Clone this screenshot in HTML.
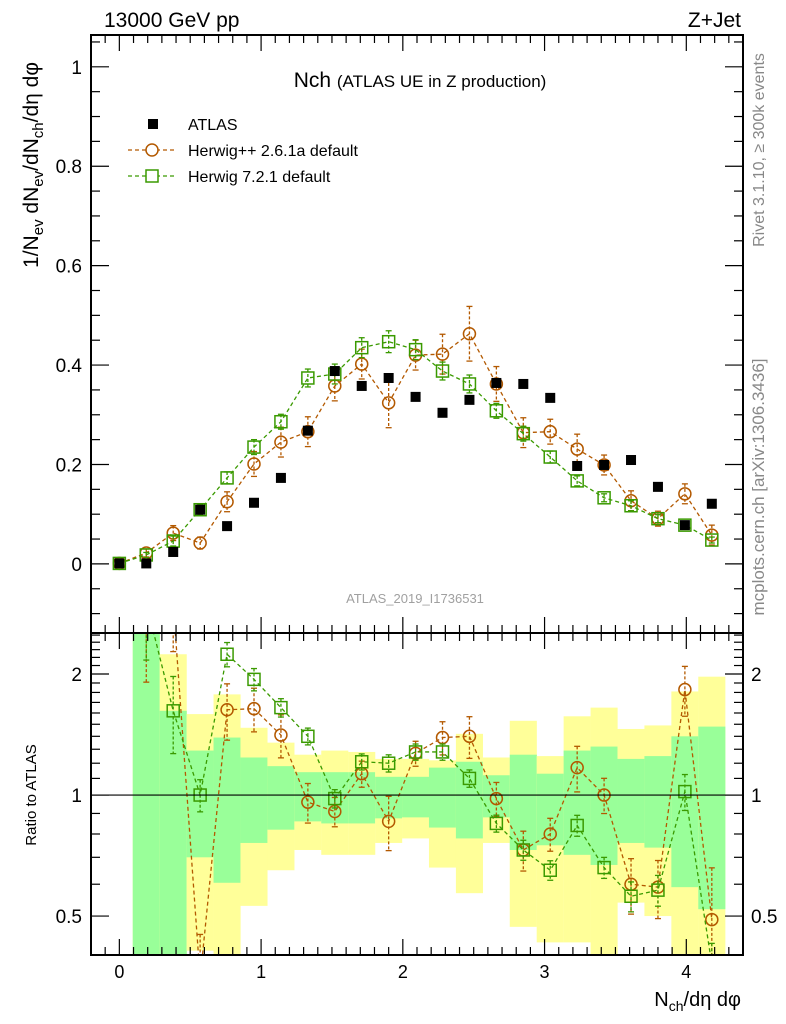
<!DOCTYPE html>
<html><head><meta charset="utf-8"><style>
html,body{margin:0;padding:0;background:#fff;}
svg{display:block;font-family:"Liberation Sans",sans-serif;}
</style></head><body>
<svg id="chart" width="786" height="1024" viewBox="0 0 786 1024" xmlns="http://www.w3.org/2000/svg">
<defs><clipPath id="clipMain"><rect x="91" y="35" width="652" height="598"/></clipPath>
<clipPath id="clipRatio"><rect x="91" y="633" width="652" height="322"/></clipPath></defs>
<g id="bands" clip-path="url(#clipRatio)"></g>
<g id="marks"></g>
<g id="axes"></g>
<text x="104" y="27" font-size="21">13000 GeV pp</text>
<text x="741" y="27" font-size="21" text-anchor="end">Z+Jet</text>
<text x="420" y="87" font-size="21" text-anchor="middle">Nch <tspan font-size="17">(ATLAS UE in Z production)</tspan></text>
<text x="415" y="603" font-size="13" fill="#a0a0a0" text-anchor="middle">ATLAS_2019_I1736531</text>
<text transform="translate(764,150) rotate(-90)" font-size="16" fill="#888" text-anchor="middle">Rivet 3.1.10, ≥ 300k events</text>
<text transform="translate(764,487) rotate(-90)" font-size="17" fill="#888" text-anchor="middle">mcplots.cern.ch [arXiv:1306.3436]</text>
<text transform="translate(38,165) rotate(-90)" font-size="21" text-anchor="middle">1/N<tspan font-size="15" dy="5">ev</tspan><tspan dy="-5"> dN</tspan><tspan font-size="15" dy="5">ev</tspan><tspan dy="-5">/dN</tspan><tspan font-size="15" dy="5">ch</tspan><tspan dy="-5">/dη dφ</tspan></text>
<text transform="translate(36,795) rotate(-90)" font-size="15" text-anchor="middle">Ratio to ATLAS</text>
<text x="741" y="1006" font-size="20" text-anchor="end">N<tspan font-size="14" dy="5">ch</tspan><tspan dy="-5">/dη dφ</tspan></text>
<g>
<rect x="148" y="119" width="10" height="10" fill="#000"/>
<text x="188" y="130" font-size="16">ATLAS</text>
<line x1="128" y1="150" x2="175" y2="150" stroke="#b35900" stroke-width="1.3" stroke-dasharray="4,3"/>
<circle cx="152" cy="150" r="6" fill="#fff" stroke="#b35900" stroke-width="1.5"/>
<text x="188" y="156" font-size="16">Herwig++ 2.6.1a default</text>
<line x1="128" y1="176" x2="175" y2="176" stroke="#3a9a00" stroke-width="1.3" stroke-dasharray="4,3"/>
<rect x="146" y="170" width="12" height="12" fill="#fff" stroke="#3a9a00" stroke-width="1.5"/>
<text x="188" y="182" font-size="16">Herwig 7.2.1 default</text>
</g>
</svg>
<script>
const xCenters=[0,0.19,0.38,0.57,0.76,0.95,1.14,1.33,1.52,1.71,1.9,2.09,2.28,2.47,2.66,2.85,3.04,3.23,3.42,3.61,3.8,3.99,4.18];
const atlasVals=[0.001,0.001,0.024,0.109,0.076,0.123,0.173,0.268,0.388,0.358,0.374,0.336,0.304,0.330,0.364,0.362,0.334,0.197,0.199,0.209,0.155,0.078,0.121];
const hppVals=[0.001,0.022,0.062,0.042,0.125,0.201,0.245,0.266,0.358,0.402,0.324,0.420,0.422,0.463,0.362,0.264,0.266,0.231,0.199,0.127,0.091,0.141,0.058];
const hppErr=[0.003,0.008,0.015,0.012,0.02,0.025,0.03,0.03,0.03,0.03,0.05,0.03,0.04,0.055,0.035,0.03,0.025,0.03,0.02,0.02,0.015,0.02,0.02];
const h7Vals=[0.001,0.018,0.046,0.109,0.173,0.235,0.286,0.374,0.382,0.435,0.447,0.431,0.388,0.362,0.308,0.262,0.215,0.167,0.133,0.117,0.091,0.078,0.048];
const h7Err=[0.002,0.005,0.01,0.01,0.012,0.015,0.015,0.018,0.02,0.02,0.022,0.02,0.018,0.018,0.015,0.015,0.012,0.01,0.008,0.01,0.008,0.008,0.006];
const hppRatio=[null,3.0,3.0,0.35,1.63,1.64,1.41,0.96,0.91,1.13,0.86,1.27,1.39,1.40,0.98,0.73,0.80,1.17,1.0,0.60,0.59,1.83,0.49];
const h7Ratio=[null,3.0,1.62,1.0,2.24,1.94,1.65,1.40,0.98,1.21,1.20,1.28,1.28,1.10,0.85,0.73,0.65,0.84,0.66,0.56,0.58,1.02,0.38];
const bandGreenUp=[null,3,1.62,1.29,1.39,1.24,1.18,1.14,1.14,1.14,1.11,1.11,1.17,1.21,1.12,1.26,1.13,1.29,1.32,1.23,1.25,1.40,1.48];
const bandGreenLo=[null,0.3,0.3,0.70,0.605,0.76,0.82,0.86,0.85,0.85,0.875,0.88,0.83,0.78,0.88,0.73,0.75,0.71,0.67,0.76,0.74,0.59,0.52];
const bandYellowUp=[null,3,2.24,1.59,1.78,1.47,1.35,1.26,1.29,1.28,1.23,1.23,1.22,1.42,1.24,1.53,1.25,1.57,1.65,1.46,1.49,1.81,1.97];
const bandYellowLo=[null,0.3,0.3,0.41,0.3,0.53,0.65,0.73,0.71,0.71,0.76,0.78,0.66,0.57,0.76,0.47,0.43,0.43,0.3,0.54,0.50,0.3,0.3];
const xTickLabels=["0","1","2","3","4"];
const yTickLabels=["0","0.2","0.4","0.6","0.8","1"];
const rTickLabels=["0.5","1","2"];

const NS="http://www.w3.org/2000/svg";
const L=91,R=743,T=35,M=633,B=955;
const xMin=-0.2,xMax=4.40,yMin=-0.139,yMax=1.064,rMin=0.40,rMax=2.53;
const sx=v=>L+(v-xMin)/(xMax-xMin)*(R-L);
const sy=v=>M-(v-yMin)/(yMax-yMin)*(M-T);
const sr=v=>B-(Math.log(v)-Math.log(rMin))/(Math.log(rMax)-Math.log(rMin))*(B-M);
const halfW=0.0955;
function el(tag,attrs,parent){const e=document.createElementNS(NS,tag);for(const k in attrs)e.setAttribute(k,attrs[k]);parent.appendChild(e);return e;}
const bands=document.getElementById('bands'),marks=document.getElementById('marks'),axes=document.getElementById('axes');

for(let i=0;i<xCenters.length;i++){
  if(bandGreenUp[i]===null)continue;
  const x0=sx(xCenters[i]-halfW),x1=sx(xCenters[i]+halfW);
  const y=el('rect',{x:x0,y:sr(bandYellowUp[i]),width:x1-x0,height:sr(bandYellowLo[i])-sr(bandYellowUp[i]),fill:'#ffff99'},bands);
  
  
  const g=el('rect',{x:x0,y:sr(bandGreenUp[i]),width:x1-x0,height:sr(bandGreenLo[i])-sr(bandGreenUp[i]),fill:'#99ff99'},bands);
  
  
}
el('line',{x1:L,y1:sr(1),x2:R,y2:sr(1),stroke:'#000','stroke-width':1.2},axes);

function series(vals,errs,ys,clip,color,shape,name,ratio){
  const g=el('g',{'clip-path':'url(#'+clip+')'},marks);
  
  
  let pts=[];
  for(let i=0;i<vals.length;i++){if(vals[i]===null)continue;pts.push(sx(xCenters[i])+','+ys(vals[i]));}
  el('polyline',{points:pts.join(' '),fill:'none',stroke:color,'stroke-width':1.3,'stroke-dasharray':'4,3'},g);
  for(let i=0;i<vals.length;i++){
    if(vals[i]===null)continue;
    const cx=sx(xCenters[i]),v=vals[i];
    let e=errs[i]; if(ratio){const base=ratio[i];e=v*(errs[i]/Math.max(base,0.01));}
    const y1=ys(v+e),y2=ys(Math.max(v-e,0.01));
    el('line',{x1:cx,y1:y1,x2:cx,y2:y2,stroke:color,'stroke-width':1.3,'stroke-dasharray':'3,2'},g);
    el('line',{x1:cx-3,y1:y1,x2:cx+3,y2:y1,stroke:color,'stroke-width':1.3},g);
    el('line',{x1:cx-3,y1:y2,x2:cx+3,y2:y2,stroke:color,'stroke-width':1.3},g);
    let m;
    if(shape==='circle')m=el('circle',{cx:cx,cy:ys(v),r:6,fill:'none',stroke:color,'stroke-width':1.5},g);
    else m=el('rect',{x:cx-6,y:ys(v)-6,width:12,height:12,fill:'none',stroke:color,'stroke-width':1.5},g);
    
    
  }
}
series(hppVals,hppErr,sy,'clipMain','#b35900','circle','herwigpp-series',null);
series(h7Vals,h7Err,sy,'clipMain','#3a9a00','rect','herwig7-series',null);
series(hppRatio,hppErr,sr,'clipRatio','#b35900','circle','herwigpp-ratio',hppVals);
series(h7Ratio,h7Err,sr,'clipRatio','#3a9a00','rect','herwig7-ratio',h7Vals);
for(let i=0;i<atlasVals.length;i++){
  const r=el('rect',{x:sx(xCenters[i])-5,y:sy(atlasVals[i])-5,width:10,height:10,fill:'#000'},marks);
  
  
}

el('rect',{x:L,y:T,width:R-L,height:B-T,fill:'none',stroke:'#000','stroke-width':2},axes);
el('line',{x1:L,y1:M,x2:R,y2:M,stroke:'#000','stroke-width':2},axes);
for(let k=-1;k<=44;k++){
  const v=k/10;if(v<xMin||v>xMax)continue;const x=sx(v);const major=k%10===0;const len=major?16:8;
  for(const yb of [M,B]){el('line',{x1:x,y1:yb,x2:x,y2:yb-len,stroke:'#000','stroke-width':1.2},axes);}
  for(const yt of [T,M]){el('line',{x1:x,y1:yt,x2:x,y2:yt+len,stroke:'#000','stroke-width':1.2},axes);}
}
xTickLabels.forEach(t=>{const tx=el('text',{x:sx(+t),y:978,'font-size':18,'text-anchor':'middle'},axes);tx.textContent=t;
 
 });
for(let k=-2;k<=21;k++){
  const v=k*0.05;if(v<yMin||v>yMax)continue;const y=sy(v);const len=k%4===0?18:9;
  el('line',{x1:L,y1:y,x2:L+len,y2:y,stroke:'#000','stroke-width':1.2},axes);
  el('line',{x1:R,y1:y,x2:R-len,y2:y,stroke:'#000','stroke-width':1.2},axes);
}
yTickLabels.forEach(t=>{const tx=el('text',{x:82,y:sy(+t)+7,'font-size':19,'text-anchor':'end'},axes);tx.textContent=t;
 
 });
const rMinor=[0.4,0.5,0.6,0.7,0.8,0.9,1,1.1,1.2,1.3,1.4,1.5,1.6,1.7,1.8,1.9,2,2.1,2.2,2.3,2.4,2.5];
rMinor.forEach(v=>{const y=sr(v);const len=(v===0.5||v===1||v===2)?18:9;
  el('line',{x1:L,y1:y,x2:L+len,y2:y,stroke:'#000','stroke-width':1.2},axes);
  el('line',{x1:R,y1:y,x2:R-len,y2:y,stroke:'#000','stroke-width':1.2},axes);});
rTickLabels.forEach(t=>{
  const a=el('text',{x:82,y:sr(+t)+7,'font-size':19,'text-anchor':'end'},axes);a.textContent=t;
  
  
  const b=el('text',{x:751,y:sr(+t)+7,'font-size':19},axes);b.textContent=t;
  
  
});
</script>
</body></html>
